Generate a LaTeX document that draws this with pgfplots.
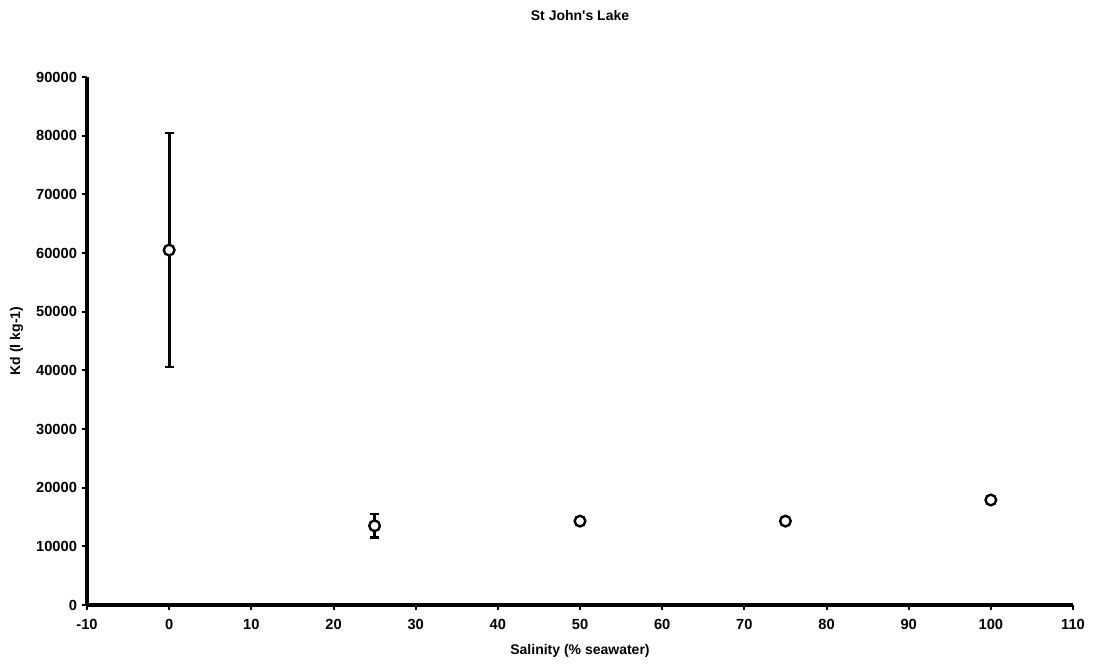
\documentclass[border=0pt]{standalone}
\usepackage{fontspec}
\setmainfont{Liberation Sans}
\usepackage{pgfplots}
\pgfplotsset{compat=1.18}
\begin{document}
\begin{tikzpicture}
\useasboundingbox (-65.25pt,-44.25pt) rectangle (755.25pt,453.75pt);
\begin{axis}[
  at={(0,0)}, anchor=south west,
  scale only axis, width=739.5pt, height=396pt,
  xmin=-10, xmax=110, ymin=0, ymax=90000,
  xtick={-10,0,...,110}, ytick={0,10000,...,90000},
  axis x line=bottom, axis y line=left,
  axis line style={line width=2.6pt, -},
  tick style={line width=1.5pt, black},
  tick align=outside, major tick length=4pt,
  xtick pos=bottom, ytick pos=left,
  scaled y ticks=false,
  /pgf/number format/assume math mode=true,
  yticklabel style={/pgf/number format/1000 sep={}, font=\fontsize{11}{13}\selectfont\bfseries},
  xticklabel style={font=\fontsize{11}{13}\selectfont\bfseries, yshift=-3pt},
  title={St John\textquotesingle s Lake},
  title style={font=\fontsize{10.5}{12}\selectfont\bfseries, at={(0.5,1)}, yshift=33pt, anchor=south},
  xlabel={Salinity (\% seawater)},
  ylabel={Kd (l kg-1)},
  xlabel style={font=\fontsize{10.5}{12}\selectfont\bfseries, yshift=-4pt},
  ylabel style={font=\fontsize{10.5}{12}\selectfont\bfseries, yshift=3pt},
  clip=false,
]
\addplot[only marks, black, mark=none,
  error bars/.cd, y dir=both, y explicit, error bar style={line width=2pt}, error mark options={rotate=90, mark size=3.5pt, line width=1.6pt}]
  coordinates {
  (0,60500) +- (0,20000)
  (25,13500) +- (0,2000)
  };
\addplot[only marks, mark=*, mark size=4pt, mark options={draw=black, fill=white, line width=1.8pt}]
  coordinates {
  (0,60500)
  (25,13500)
  (50,14300)
  (75,14300)
  (100,17900)
  };
\end{axis}
\end{tikzpicture}
\end{document}
